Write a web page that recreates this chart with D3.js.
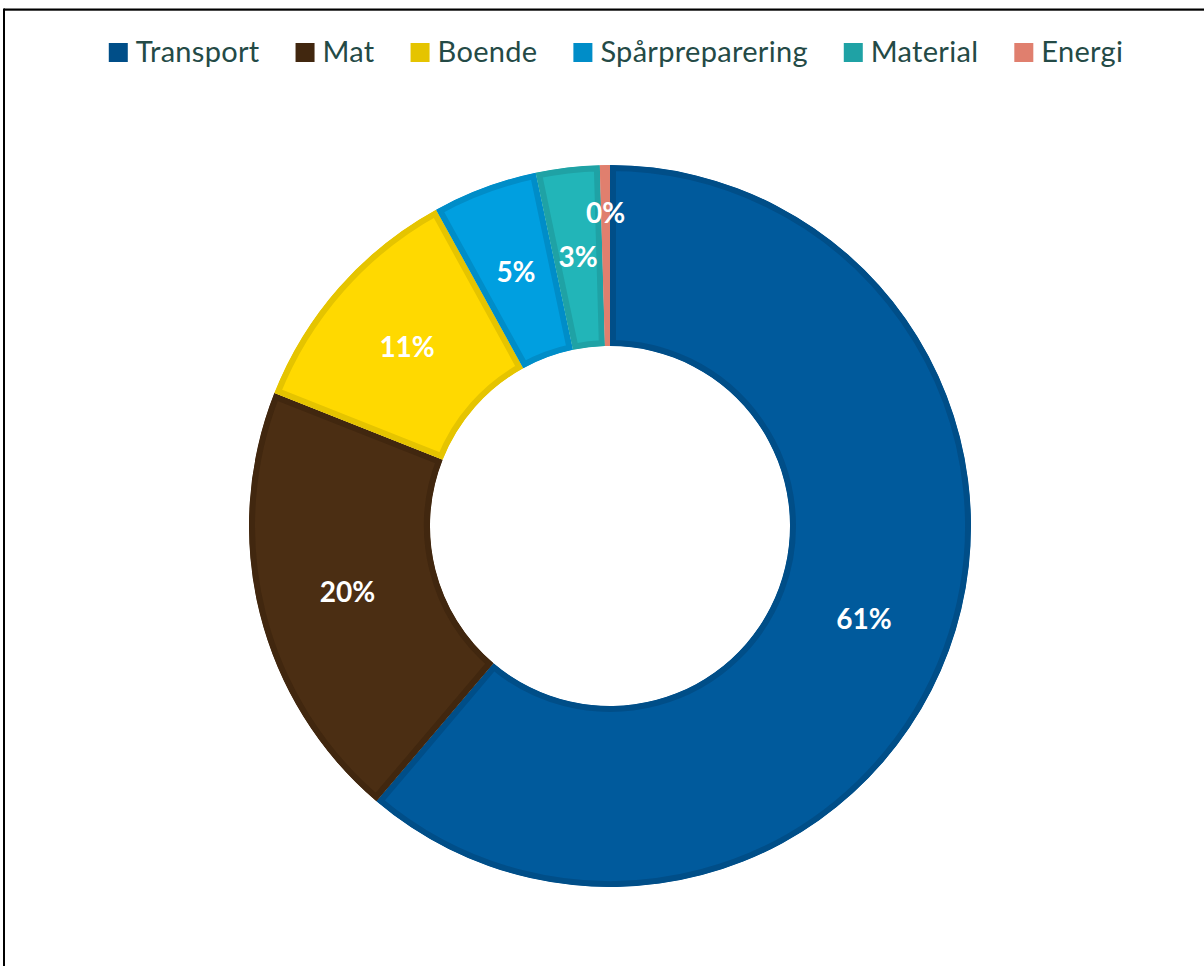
<!DOCTYPE html>
<html>
<head>
<meta charset="utf-8">
<script src="https://cdn.jsdelivr.net/npm/d3@7"></script>
<style>
  html, body { margin: 0; padding: 0; background: #fff; }
  svg { display: block; }
</style>
</head>
<body>
<div id="chart"></div>
<script>
// categories and their shares (percent)
const categories = ["Transport", "Mat", "Boende", "Spårpreparering", "Material", "Energi"];
const shares = [61.2, 19.8, 11.0, 4.7, 2.85, 0.45];
const fillColors = ["#005A9C", "#4B2E13", "#FFD900", "#009FE0", "#22B5B8", "#E07F6E"];
const edgeColors = ["#004E88", "#41270F", "#E5C400", "#008DC8", "#1FA2A5", "#E07F6E"];

(function() {
  const width = 1204, height = 966;
  const cx = 610, cy = 526;
  const outerR = 361, innerR = 180;

  const svg = d3.select("#chart")
    .append("svg")
    .attr("width", width)
    .attr("height", height);

  // frame (chart area is cropped on the right and bottom)
  svg.append("line")
    .attr("x1", 4).attr("x2", width)
    .attr("y1", 10.5).attr("y2", 10.5)
    .attr("stroke", "#999").attr("stroke-width", 1);
  svg.append("line")
    .attr("x1", 4).attr("x2", width)
    .attr("y1", 9.5).attr("y2", 9.5)
    .attr("stroke", "#000").attr("stroke-width", 2);
  svg.append("line")
    .attr("x1", 4).attr("x2", 4)
    .attr("y1", 8.5).attr("y2", height)
    .attr("stroke", "#000").attr("stroke-width", 2);

  const data = categories.map((c, i) => ({ name: c, value: shares[i], i: i }));
  const total = d3.sum(shares);

  const pie = d3.pie()
    .sort(null)
    .value(d => d.value);

  const arc = d3.arc()
    .innerRadius(innerR)
    .outerRadius(outerR);

  const g = svg.append("g")
    .attr("transform", `translate(${cx},${cy})`);

  const arcs = pie(data);

  const defs = svg.append("defs");
  arcs.forEach((a, i) => {
    defs.append("clipPath")
      .attr("id", "clip" + i)
      .append("path")
      .attr("d", arc(a));
  });

  // slices with an inset border (stroke clipped to its own slice)
  g.selectAll("path.slice")
    .data(arcs)
    .enter().append("path")
    .attr("class", "slice")
    .attr("d", arc)
    .attr("fill", d => fillColors[d.data.i])
    .attr("stroke", d => edgeColors[d.data.i])
    .attr("stroke-width", 12)
    .attr("stroke-linejoin", "miter")
    .attr("clip-path", (d, i) => `url(#clip${i})`);

  // percentage labels at the middle of each slice; tiny slices pushed outward
  const labelArc = d3.arc().innerRadius(innerR).outerRadius(outerR);
  const smallArc = d3.arc().innerRadius(outerR - 48).outerRadius(outerR - 48);
  g.selectAll("text.lbl")
    .data(arcs)
    .enter().append("text")
    .attr("class", "lbl")
    .attr("transform", d => {
      const share = d.data.value / total;
      const p = share < 0.01 ? smallArc.centroid(d) : labelArc.centroid(d);
      return `translate(${p[0]},${p[1]})`;
    })
    .attr("text-anchor", "middle")
    .attr("dy", "0.36em")
    .attr("fill", "#fff")
    .attr("font-family", "Lato, 'Open Sans', sans-serif")
    .attr("font-weight", "bold")
    .attr("font-size", "28px")
    .text(d => d3.format(".0%")(d.data.value / total));

  // legend across the top
  const legend = svg.append("g");
  const box = 19, pad = 8, gap = 36;
  const items = legend.selectAll("g.item")
    .data(categories)
    .enter().append("g")
    .attr("class", "item");
  items.append("rect")
    .attr("width", box).attr("height", box)
    .attr("y", 43)
    .attr("fill", (d, i) => edgeColors[i]);
  items.append("text")
    .attr("x", box + pad)
    .attr("y", 62)
    .attr("fill", "#244A46")
    .attr("font-family", "Lato, 'Open Sans', sans-serif")
    .attr("font-size", "29px")
    .attr("letter-spacing", "0.3px")
    .text(d => d);

  let x = 0;
  const offsets = [];
  items.each(function() {
    offsets.push(x);
    const w = d3.select(this).select("text").node().getComputedTextLength();
    x += box + pad + w + gap;
  });
  const totalW = x - gap;
  const startX = 616 - totalW / 2;
  items.attr("transform", (d, i) => `translate(${startX + offsets[i]},0)`);
})();
</script>
</body>
</html>
